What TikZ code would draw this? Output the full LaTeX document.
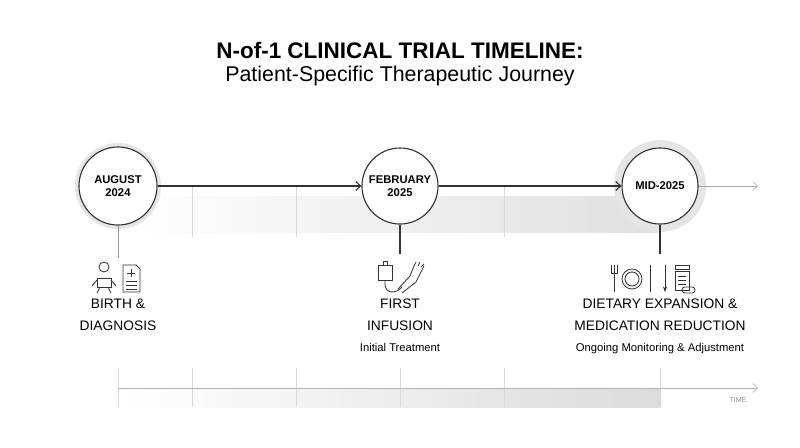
\documentclass[tikz,border=0pt]{standalone}
\usepackage{fontspec}
\setmainfont{Liberation Sans}
\usetikzlibrary{calc,positioning,arrows.meta}
\tikzset{>={Straight Barb[width=2.2mm,length=1.2mm]}}
\begin{document}
\begin{tikzpicture}[x=0.025cm,y=-0.025cm]
  \tikzstyle{dnode} = [thick, draw=black!80, circle, fill=white, align=center, inner sep=1pt, font=\footnotesize\bfseries]
  \tikzstyle{halo} = [circle, fill=black!10, minimum size=2.3cm]
  \tikzstyle{lbl} = [align=center, font=\fontsize{9.8}{16}\selectfont, inner sep=1pt]
  \tikzstyle{sub} = [font=\fontsize{8}{10}\selectfont, inner sep=1pt]
  \tikzstyle{tick} = [black!15, thin]
  \tikzstyle{ico} = [black!80, line width=0.6pt]

  \useasboundingbox (0,0) rectangle (800,447);

  % title
  \node[font=\fontsize{16}{19}\selectfont\bfseries] (title) at (400,50) {N-of-1 CLINICAL TRIAL TIMELINE:};
  \node[font=\fontsize{15.2}{18}\selectfont] (subtitle) at (400,76) {Patient-Specific Therapeutic Journey};

  % shaded band and ticks
  \shade[left color=white, right color=black!12] (120,196) rectangle (660,232);
  \foreach \x in {192,296,504} \draw[tick] (\x,186) -- (\x,237);

  % milestones
  \node[halo, minimum size=2.15cm] (h1) at (118,186) {};
  \node[halo] (h3) at (660,186) {};
  \node[dnode, minimum size=1.95cm] (aug) at (118,186) {AUGUST\\2024};
  \node[dnode, minimum size=1.9cm] (feb) at (400,186) {FEBRUARY\\2025};
  \node[dnode, minimum size=1.9cm] (mid) at (660,186) {MID-2025};
  \coordinate (end) at (758,186);

  \draw[thick, black!80, ->] (aug) -- (feb);
  \draw[thick, black!80, ->] (feb) -- (mid);
  \draw[black!35, ->] (mid) -- (end);

  \coordinate (s1) at (118,258);
  \coordinate (s2) at (400,254);
  \coordinate (s3) at (660,254);
  \draw[black!40] (aug) -- (s1);
  \draw[thick, black!80] (feb) -- (s2);
  \draw[thick, black!80] (mid) -- (s3);

  % icons: baby and record
  \begin{scope}[ico]
    \draw (104,267) circle (5);
    \draw (97,278) rectangle (111,287);
    \draw (97,280) -- (92,286) (111,280) -- (116,286);
    \draw (100,287) -- (97,293) (108,287) -- (111,293);
    \draw (123,265) -- (136,265) -- (140,269) -- (140,292) -- (123,292) -- cycle;
    \draw (131,269) -- (131,277) (127,273) -- (135,273);
    \foreach \y in {281,285,289} \draw (126,\y) -- (137,\y);
  \end{scope}
  % icons: IV and hand
  \begin{scope}[ico]
    \draw (378,265) rectangle (392,280);
    \draw (383,261) -- (387,261) -- (387,265) (383,261) -- (383,265);
    \draw (385,280) -- (385,284) .. controls (385,294) and (396,294) .. (402,287);
    \draw (398,289) -- (410,276) -- (414,266) (402,293) -- (416,282) -- (424,266);
    \draw (414,266) -- (416,262) (418,266) -- (420,262) (421,267) -- (424,264);
  \end{scope}
  % icons: plate, down arrow, bottle
  \begin{scope}[ico]
    \draw (614,265) -- (614,292) (611,265) -- (611,273) -- (617,273) -- (617,265);
    \draw (632,279) circle (10) (632,279) circle (7);
    \draw (650,265) -- (650,292);
    \draw[-{Stealth[length=4pt]}] (665,265) -- (665,292);
    \draw (675,265) rectangle (689,269) (675,271) rectangle (689,290);
    \foreach \y in {276,280,284} \draw (678,\y) -- (686,\y);
    \draw[rounded corners=2pt] (682,287) rectangle (695,293);
  \end{scope}

  % labels
  \node[lbl] (l1) at (118,315) {BIRTH \&\\DIAGNOSIS};
  \node[lbl] (l2) at (400,315) {FIRST\\INFUSION};
  \node[sub, below=6pt of l2] (d2) {Initial Treatment};
  \node[lbl] (l3) at (660,315) {DIETARY EXPANSION \&\\MEDICATION REDUCTION};
  \node[sub, below=6pt of l3] (d3) {Ongoing Monitoring \& Adjustment};

  % time axis
  \shade[left color=white, right color=black!14] (120,388) rectangle (660,407);
  \foreach \x in {118,192,296,400,504,660} \draw[tick] (\x,368) -- (\x,407);
  \coordinate (t0) at (118,388);
  \coordinate (t1) at (758,388);
  \draw[black!30, ->] (t0) -- (t1);
  \node[font=\tiny, text=black!45] (time) at (738,400) {TIME};
\end{tikzpicture}
\end{document}
